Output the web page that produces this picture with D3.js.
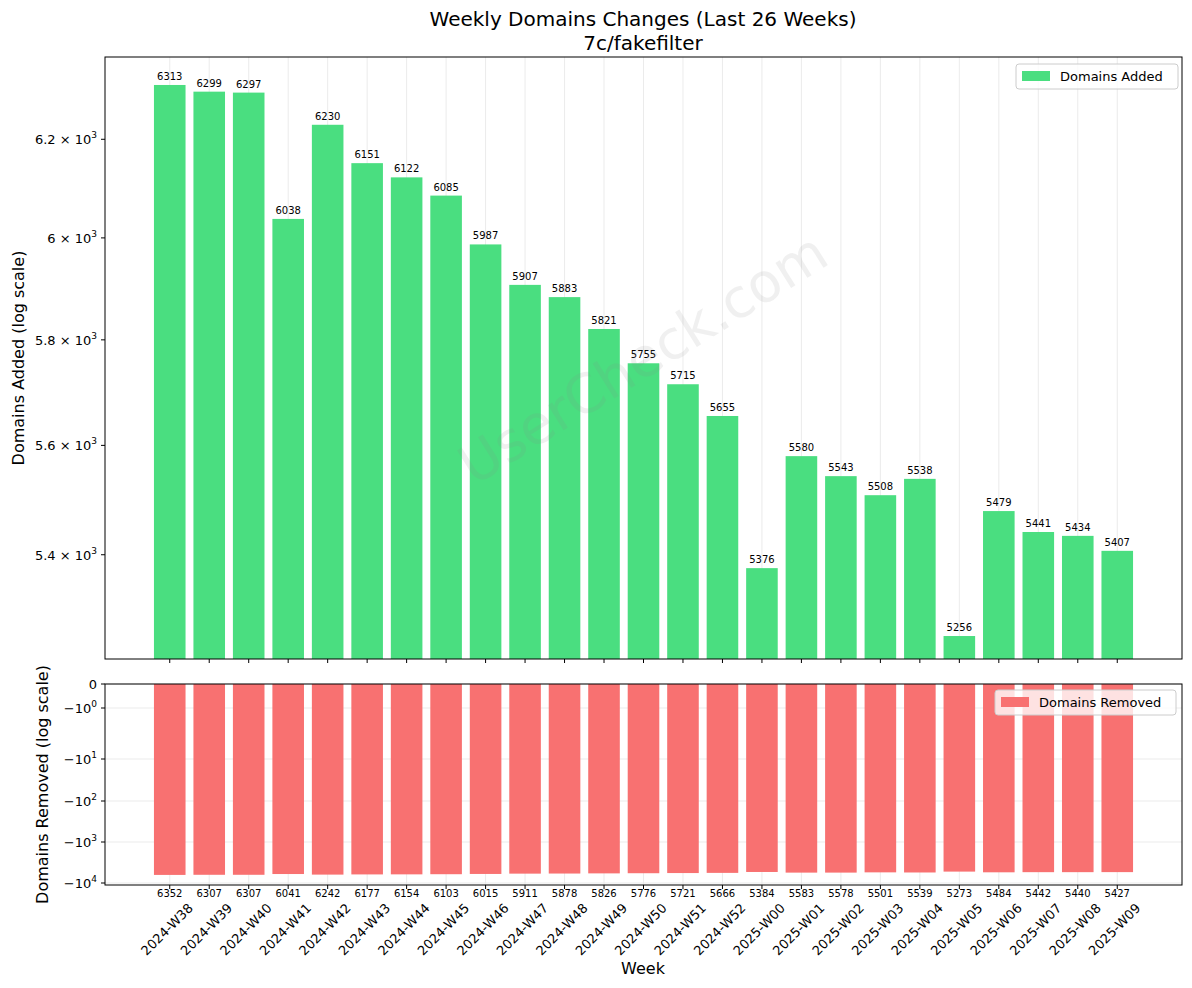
<!DOCTYPE html>
<html><head><meta charset="utf-8">
<script src="https://cdn.jsdelivr.net/npm/d3@7"></script>
<style>body{margin:0;background:#fff}text{font-family:"DejaVu Sans",sans-serif}</style>
</head><body><svg id="c" width="1192" height="988"></svg>
<script>
const weeks=["2024-W38","2024-W39","2024-W40","2024-W41","2024-W42","2024-W43","2024-W44","2024-W45","2024-W46","2024-W47","2024-W48","2024-W49","2024-W50","2024-W51","2024-W52","2025-W00","2025-W01","2025-W02","2025-W03","2025-W04","2025-W05","2025-W06","2025-W07","2025-W08","2025-W09"];
const added=[6313,6299,6297,6038,6230,6151,6122,6085,5987,5907,5883,5821,5755,5715,5655,5376,5580,5543,5508,5538,5256,5479,5441,5434,5407];
const removed=[6352,6307,6307,6041,6242,6177,6154,6103,6015,5911,5878,5826,5776,5721,5666,5384,5583,5578,5501,5539,5273,5484,5442,5440,5427];
const topTicks=[5400,5600,5800,6000,6200];
const topTickLabels=["5.4","5.6","5.8","6","6.2"];
const botTicks=[0,1,10,100,1000,10000];

const svg=d3.select("#c");
const L=105,R=1182,T1=57,B1=659,T2=684,B2=885;
const x=d3.scaleLinear().domain([-1.64,weeks.length-1+1.64]).range([L,R]);
const bw=(x(1)-x(0))*0.8;
const y1=d3.scaleLog().domain([5216,6372]).range([B1,T1]);
const tf=a=>a<=1?a:1+Math.log10(a);
const y2b=d3.scaleLinear().domain([0,1,2,3,4,5,5.05]).range([684,708,759,801,842,883,885]);
const y2=v=>y2b(tf(v));

weeks.forEach((w,i)=>{
 [[T1,B1],[T2,B2]].forEach(([a,b])=>svg.append("line").attr("x1",x(i)).attr("x2",x(i)).attr("y1",a).attr("y2",b).attr("stroke","#e6e6e6").attr("stroke-width",0.8));
});
botTicks.forEach(t=>svg.append("line").attr("x1",L).attr("x2",R).attr("y1",y2(t)).attr("y2",y2(t)).attr("stroke","#e6e6e6").attr("stroke-width",0.8));

svg.append("g").selectAll("rect").data(added).join("rect")
 .attr("x",(d,i)=>x(i)-bw/2).attr("width",bw).attr("y",d=>y1(d)).attr("height",d=>B1-y1(d)).attr("fill","#4ade80");
svg.append("g").selectAll("text").data(added).join("text")
 .attr("x",(d,i)=>x(i)).attr("y",d=>y1(d)-5).attr("text-anchor","middle").attr("font-size",10).attr("fill","#000").text(d=>d);
svg.append("g").selectAll("rect").data(removed).join("rect")
 .attr("x",(d,i)=>x(i)-bw/2).attr("width",bw).attr("y",T2).attr("height",d=>y2(d)-T2).attr("fill","#f87171");
svg.append("g").selectAll("text").data(removed).join("text")
 .attr("x",(d,i)=>x(i)).attr("y",897).attr("text-anchor","middle").attr("font-size",10).attr("fill","#000").text(d=>d);

[[T1,B1],[T2,B2]].forEach(([a,b])=>svg.append("rect").attr("x",L).attr("y",a).attr("width",R-L).attr("height",b-a).attr("fill","none").attr("stroke","#000").attr("stroke-width",1));

topTicks.forEach((t,i)=>{
 const yy=y1(t);
 svg.append("line").attr("x1",L-4).attr("x2",L).attr("y1",yy).attr("y2",yy).attr("stroke","#000");
 const tx=svg.append("text").attr("x",L-8).attr("y",yy+5).attr("text-anchor","end").attr("font-size",13);
 tx.append("tspan").text(topTickLabels[i]+" × 10");
 tx.append("tspan").attr("dy",-6).attr("font-size",9).text("3");
});
botTicks.forEach((t,i)=>{
 const yy=y2(t);
 svg.append("line").attr("x1",L-4).attr("x2",L).attr("y1",yy).attr("y2",yy).attr("stroke","#000");
 const tx=svg.append("text").attr("x",L-8).attr("y",yy+5).attr("text-anchor","end").attr("font-size",13);
 if(t===0){tx.text("0");}
 else{tx.append("tspan").text("−10");tx.append("tspan").attr("dy",-6).attr("font-size",9).text(String(i-1));}
});
weeks.forEach((w,i)=>{
 svg.append("line").attr("x1",x(i)).attr("x2",x(i)).attr("y1",B1).attr("y2",B1+4).attr("stroke","#000");
 svg.append("line").attr("x1",x(i)).attr("x2",x(i)).attr("y1",B2).attr("y2",B2+4).attr("stroke","#000");
 svg.append("text").attr("transform",`translate(${x(i)+24},${B2+24}) rotate(-45)`).attr("text-anchor","end").attr("font-size",13).text(w);
});

svg.append("text").attr("x",643).attr("y",26).attr("text-anchor","middle").attr("font-size",20).text("Weekly Domains Changes (Last 26 Weeks)");
svg.append("text").attr("x",643).attr("y",50).attr("text-anchor","middle").attr("font-size",20).text("7c/fakefilter");
svg.append("text").attr("x",643).attr("y",974).attr("text-anchor","middle").attr("font-size",16).text("Week");
svg.append("text").attr("transform",`translate(24,${(T1+B1)/2}) rotate(-90)`).attr("text-anchor","middle").attr("font-size",16).text("Domains Added (log scale)");
svg.append("text").attr("transform",`translate(48,${(T2+B2)/2}) rotate(-90)`).attr("text-anchor","middle").attr("font-size",16).text("Domains Removed (log scale)");

function legend(x0,y0,w,col,label){
 svg.append("rect").attr("x",x0).attr("y",y0).attr("width",w).attr("height",25).attr("rx",3).attr("fill","#fff").attr("fill-opacity",0.8).attr("stroke","#ccc");
 svg.append("rect").attr("x",x0+6).attr("y",y0+7).attr("width",28).attr("height",10).attr("fill",col);
 svg.append("text").attr("x",x0+44).attr("y",y0+17).attr("font-size",13).text(label);
}
legend(1016,64,162,"#4ade80","Domains Added");
legend(995,690,181,"#f87171","Domains Removed");

svg.append("text").attr("x",645).attr("y",362).attr("text-anchor","middle").attr("dominant-baseline","middle")
 .attr("transform","rotate(-32,645,362)").attr("font-size",54).attr("fill","#888").attr("opacity",0.12).text("UserCheck.com");
</script></body></html>
